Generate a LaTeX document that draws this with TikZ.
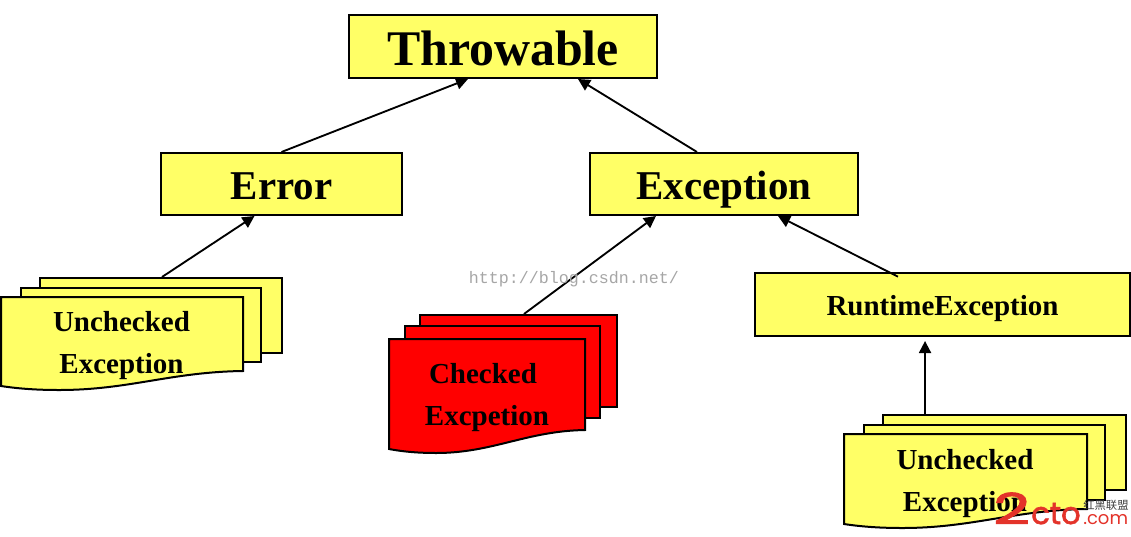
\documentclass[tikz,border=0pt]{standalone}
\usepackage{fontspec}
\setmainfont{Liberation Serif}
\newfontfamily\wmfont{Liberation Mono}
\newfontfamily\logofont[FakeBold=2]{Poppins}
\newfontfamily\logofontlight{Poppins}
\newfontfamily\cjkfont{Noto Sans CJK SC}
\usetikzlibrary{arrows.meta}
\definecolor{boxyellow}{HTML}{FFFF66}
\definecolor{logored}{HTML}{E3332A}
\tikzset{
  classbox/.style={draw=black,line width=1.5pt,fill=boxyellow,inner sep=0pt},
  sheet/.style={draw=black,line width=1.5pt,inner sep=0pt},
  link/.style={draw=black,line width=1.4pt,-{Triangle[length=9pt,width=9pt]}},
  doclabel/.style={inner sep=0pt,anchor=base,font=\fontsize{21.75}{24}\selectfont\bfseries},
  wave/.style={draw=black,line width=1.5pt,line join=miter}
}
\newcommand{\docfront}[6]{% x1 x2 top leftbottom rightbottom colour
  \draw[wave,fill=#6] (#1,#3) -- (#2,#3) -- (#2,#5)
    .. controls ({#2-0.3*(#2-#1)},{#5+1}) and ({#2-0.47*(#2-#1)},{#4+4}) .. ({#1+0.24*(#2-#1)},{#4+4})
    .. controls ({#1+0.16*(#2-#1)},{#4+4}) and ({#1+0.08*(#2-#1)},{#4+3}) .. (#1,#4) -- cycle;
}
\begin{document}
\begin{tikzpicture}[x=0.75pt,y=-0.75pt]
\useasboundingbox (0,0) rectangle (1131,536);
% class boxes
\node[classbox,minimum width=231pt,text height=37.5pt,text depth=9.75pt,font=\fontsize{37.4}{40}\selectfont\bfseries] (throwable) at (503,46.5) {Throwable};
\node[classbox,minimum width=180.75pt,text height=34.5pt,text depth=12pt,font=\fontsize{30.7}{33}\selectfont\bfseries] (error) at (281.5,184) {Error};
\node[classbox,minimum width=201pt,text height=34.5pt,text depth=12pt,font=\fontsize{30.7}{33}\selectfont\bfseries] (exception) at (724,184) {Exception};
\node[classbox,minimum width=281.25pt,text height=31.5pt,text depth=15.75pt,font=\fontsize{21.75}{24}\selectfont\bfseries] (runtime) at (942.5,304.5) {RuntimeException};
% left stack
\node[sheet,fill=boxyellow,minimum width=181.5pt,minimum height=56.25pt] (ua3) at (161,315.5) {};
\node[sheet,fill=boxyellow,minimum width=180pt,minimum height=55.5pt] (ua2) at (141,325) {};
\docfront{1}{243}{297}{386}{371}{boxyellow}
\node[doclabel] (ua1) at (121.5,331) {Unchecked};
\node[doclabel] (ua0) at (121.5,373) {Exception};
% middle stack
\node[sheet,fill=red,minimum width=147.75pt,minimum height=69pt] (cb3) at (518.5,361) {};
\node[sheet,fill=red,minimum width=146.25pt,minimum height=69pt] (cb2) at (502.5,372) {};
\docfront{389}{585}{339}{449}{430}{red}
\node[doclabel] (cb1) at (483,383) {Checked};
\node[doclabel] (cb0) at (487,425) {Excpetion};
% right stack
\node[sheet,fill=boxyellow,minimum width=182.25pt,minimum height=56.25pt] (ub3) at (1004.5,452.5) {};
\node[sheet,fill=boxyellow,minimum width=180.75pt,minimum height=56.25pt] (ub2) at (984.5,462) {};
\docfront{844}{1087}{434}{524}{509}{boxyellow}
\node[doclabel] (ub1) at (965,469) {Unchecked};
\node[doclabel] (ub0) at (965,511) {Exception};
% connectors
\draw[link] (error.north) -- ([xshift=-26.25pt]throwable.south);
\draw[link] ([xshift=-20.25pt]exception.north) -- ([xshift=56.25pt]throwable.south);
\draw[link] ([xshift=0.75pt]ua3.north) -- ([xshift=-20.25pt]error.south);
\draw[link] ([xshift=4.1pt]cb3.north) -- ([xshift=-51pt]exception.south);
\draw[link] ([xshift=-33.4pt,yshift=-3.5pt]runtime.north) -- ([xshift=40.5pt]exception.south);
\draw[link] ([xshift=-59.6pt]ub3.north) -- ([xshift=-13.1pt,yshift=-3pt]runtime.south);
% watermarks
\node[inner sep=0pt,text=black!35,font=\wmfont\fontsize{12.5}{14}\selectfont] (wm) at (574,279) {http://blog.csdn.net/};
\node[inner sep=0pt,anchor=base west,text=logored,font=\logofont\fontsize{32}{34}\selectfont] (logotwo) at (993,524) {\scalebox{1.5}[1]{2}};
\node[inner sep=0pt,anchor=base west,text=logored,font=\logofont\fontsize{23}{25}\selectfont] (logocto) at (1031,524) {cto};
\node[inner sep=0pt,anchor=base west,text=logored,font=\logofontlight\fontsize{13.5}{15}\selectfont] (logocom) at (1083,524) {.com};
\node[inner sep=0pt,anchor=base west,text=black!75,font=\cjkfont\fontsize{8.5}{9}\selectfont] (logocn) at (1083,509) {红黑联盟};
\end{tikzpicture}
\end{document}
